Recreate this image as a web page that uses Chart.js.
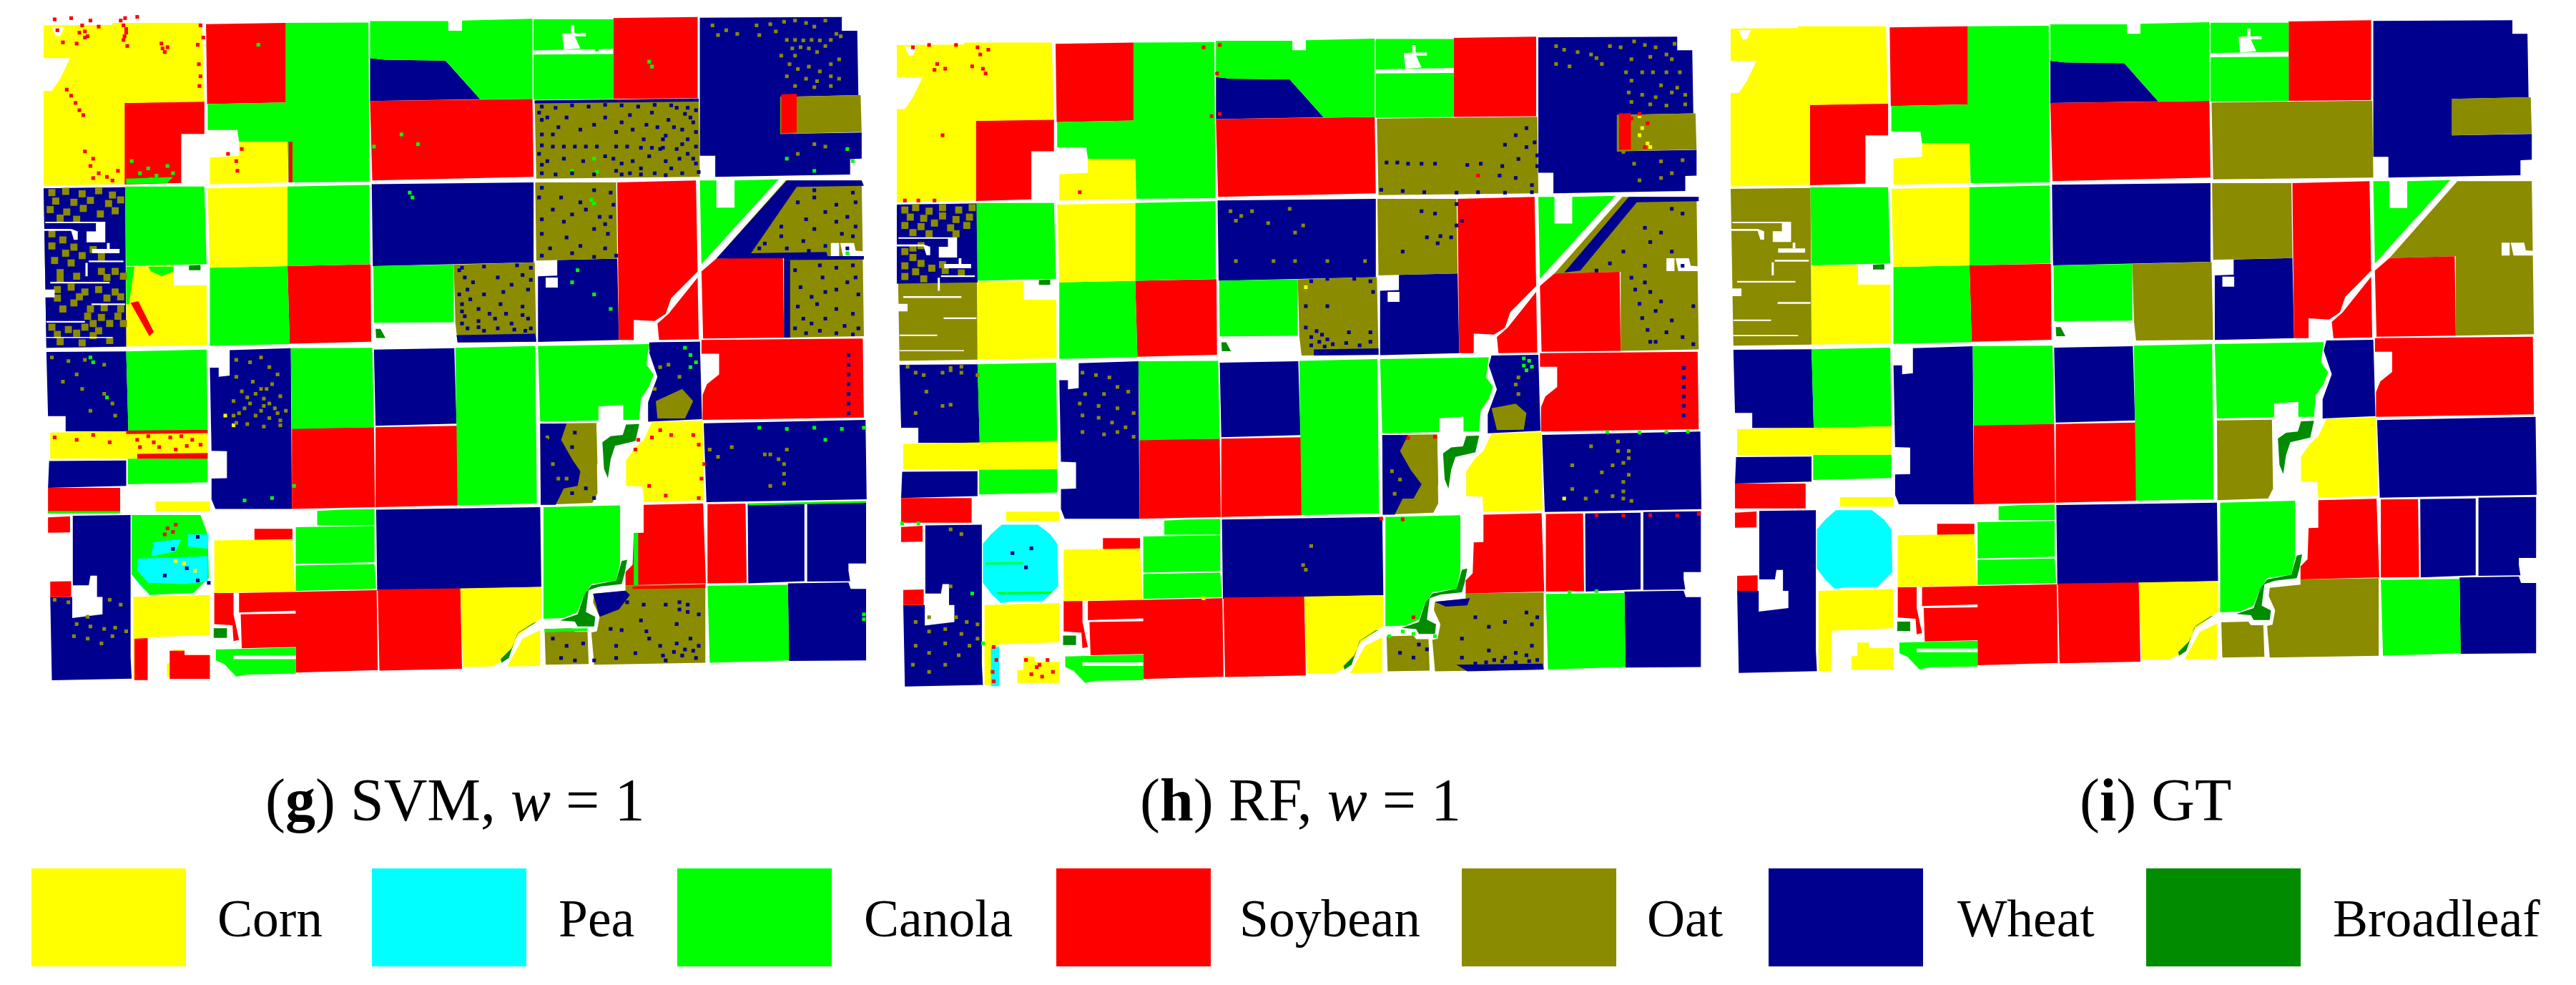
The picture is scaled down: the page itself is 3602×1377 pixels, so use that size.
<!DOCTYPE html>
<html>
<head>
<meta charset="utf-8">
<title>Crop maps</title>
<script src="https://cdn.jsdelivr.net/npm/chart.js@4/dist/chart.umd.js"></script>
<style>
  html, body { margin: 0; background: #fff; width: 3602px; height: 1377px; overflow: hidden; }
  canvas { position: absolute; }
  .caption, .label { position: absolute; font-family: "Liberation Serif", serif; color: #000; white-space: nowrap; line-height: 1; }
  .caption { font-size: 84px; }
  .label { font-size: 73.5px; }
  .swatch { position: absolute; }
</style>
</head>
<body>
<script>
// Class names and colours, in legend order
const classNames = ["Corn", "Pea", "Canola", "Soybean", "Oat", "Wheat", "Broadleaf"];
const classColors = ["#ffff00", "#00ffff", "#00ff00", "#ff0000", "#8b8b00", "#00008f", "#008b00"];
const captions = ["SVM", "RF", "GT"];

// Field outlines, map units, one flat x,y list per field
const cornFields = [
  [0,90,125,88,125,80,288,80,292,405,147,410,147,745,0,752,0,360,15,360,30,310,48,225,0,225],
  [355,570,443,570,443,738,302,745,302,635,355,628],
  [150,1085,236,1083,236,1163,296,1163,297,1410,150,1415],
  [298,762,443,755,443,1083,302,1090],
  [12,1770,298,1758,298,1877,12,1878],
  [1105,1727,1197,1720,1200,2050,1090,2057,1088,1992,1058,1990,1058,1885,1075,1830,1090,1800],
  [203,2055,302,2055,302,2095,203,2095],
  [163,2448,302,2440,302,2605,188,2615,186,2785,163,2785],
  [235,2665,256,2665,256,2688,302,2688,302,2777,224,2777,224,2722,235,2722],
  [310,2215,452,2210,457,2425,310,2432],
  [757,2413,904,2407,905,2535,895,2550,860,2610,845,2700,815,2735,762,2737],
  [902,2585,902,2733,842,2735,870,2620]
];
const peaFields = [
  [195,2110,262,2110,285,2150,298,2190,300,2370,272,2432,220,2432,193,2440,175,2400,160,2355,160,2190,175,2150]
];
const canolaFields = [
  [440,80,590,78,592,735,445,738,443,570,355,570,352,522,298,522,298,415,440,408],
  [593,72,735,72,735,112,760,112,760,70,888,63,888,393,793,395,760,310,730,235,620,232,593,225],
  [890,65,1035,65,1035,187,890,193],
  [890,210,1035,208,1035,393,890,397],
  [148,755,292,755,296,1075,150,1083],
  [443,755,592,748,593,1075,443,1083],
  [302,1090,443,1083,447,1405,302,1412],
  [599,1083,745,1077,745,1315,600,1317],
  [1192,730,1222,730,1222,842,1255,842,1255,730,1335,725,1195,1075],
  [150,1435,296,1428,298,1758,154,1765],
  [153,1878,298,1877,298,1975,153,1983],
  [449,1422,597,1420,600,1748,451,1755],
  [748,1420,893,1413,896,2063,752,2070],
  [898,1413,1100,1405,1095,1490,1108,1530,1100,1580,1085,1630,1082,1718,1053,1718,1053,1655,1008,1662,1008,1720,902,1725],
  [497,2093,540,2088,601,2086,601,2152,497,2152],
  [458,2160,601,2155,601,2305,458,2312],
  [458,2318,601,2312,604,2415,458,2423],
  [313,2665,458,2657,458,2765,370,2768,350,2777,328,2725,313,2710],
  [908,2078,1047,2070,1047,2310,1040,2380,995,2395,980,2450,970,2510,945,2535,908,2538],
  [1206,2402,1352,2398,1354,2710,1210,2720]
];
const soybeanFields = [
  [147,410,292,402,292,538,250,538,250,740,147,747],
  [295,85,440,80,440,408,297,415],
  [593,402,888,393,890,715,597,730],
  [1035,60,1188,55,1188,390,1035,393],
  [443,1083,594,1076,595,1395,447,1403],
  [1042,738,1185,730,1188,1105,1140,1215,1130,1280,1110,1310,1072,1305,1072,1388,1045,1388],
  [1115,1320,1135,1280,1188,1130,1190,1385,1118,1388],
  [1222,1052,1343,1045,1345,1378,1198,1382,1195,1105],
  [8,1998,139,1998,139,2102,8,2102],
  [451,1752,600,1748,602,2078,451,2085],
  [603,1748,752,1742,752,2070,603,2078],
  [1195,1388,1488,1382,1490,1708,1197,1718,1197,1615,1205,1570,1227,1530,1227,1445,1195,1445],
  [8,2120,48,2115,48,2182,8,2183],
  [12,2385,50,2383,50,2448,12,2448],
  [383,2167,452,2167,452,2210,383,2215],
  [310,2432,345,2432,345,2520,355,2625,345,2630,343,2565,310,2560],
  [355,2432,605,2420,607,2750,458,2760,458,2655,360,2660,358,2520,458,2517,458,2505,355,2512],
  [607,2417,757,2413,760,2745,610,2752],
  [1090,2068,1198,2062,1203,2392,1057,2400,1057,2345,1070,2315,1072,2185,1090,2183],
  [1206,2065,1275,2063,1277,2390,1206,2392]
];
const oatFields = [
  [892,400,1190,392,1192,715,895,722],
  [1338,385,1484,378,1486,530,1338,538],
  [0,762,148,758,150,1415,5,1420],
  [745,1077,892,1068,895,1395,752,1398,748,1317],
  [893,738,1040,738,1042,1052,895,1060],
  [1348,730,1486,730,1490,1372,1345,1378,1345,1045,1222,1052],
  [902,1733,1004,1730,1006,2020,997,2060,903,2068],
  [910,2580,960,2577,965,2592,988,2592,990,2725,912,2728],
  [1000,2435,1057,2422,1057,2400,1202,2395,1202,2720,1000,2728,995,2595,1005,2590,1010,2530,998,2470]
];
const wheatFields = [
  [593,225,620,232,730,235,793,395,593,402],
  [1192,58,1450,55,1450,112,1478,112,1480,378,1338,385,1338,538,1486,532,1486,640,1465,642,1465,705,1220,715,1220,628,1192,628],
  [596,745,890,738,890,1068,598,1083],
  [933,1058,1042,1052,1045,1388,898,1396,898,1125,933,1122],
  [5,1437,150,1435,154,1765,40,1765,40,1702,8,1702],
  [10,1887,150,1885,150,1990,8,1998],
  [338,1430,449,1422,451,2085,312,2085,305,2045,305,1960,333,1958,333,1847,305,1845,302,1502,318,1502,318,1540,338,1535],
  [600,1428,746,1422,750,1733,603,1742],
  [1105,1398,1192,1395,1196,1715,1098,1725,1098,1645,1115,1540,1100,1440],
  [1199,1732,1493,1718,1495,2045,1204,2057],
  [53,2113,158,2110,158,2698,160,2785,15,2792,12,2448,52,2448,52,2535,107,2520,107,2448,97,2448,97,2360,85,2360,82,2400,53,2400],
  [604,2088,902,2078,904,2407,606,2423],
  [1279,2063,1382,2060,1382,2383,1280,2392],
  [1387,2057,1494,2054,1494,2310,1462,2310,1462,2340,1465,2383,1387,2385],
  [1352,2392,1462,2388,1466,2415,1494,2415,1494,2710,1354,2712]
];
const broadleafFields = [
  [264,1080,285,1078,285,1100,264,1100],
  [603,1342,612,1342,621,1380,604,1380],
  [1058,1737,1082,1735,1075,1805,1038,1825,1030,1880,1025,1958,1018,1920,1015,1810,1030,1785,1052,1780],
  [309,2577,333,2577,333,2617,309,2617],
  [895,2552,860,2600,845,2700,832,2720,830,2705,850,2660,862,2595,890,2555],
  [938,2545,970,2520,982,2440,995,2400,1040,2380,1050,2300,1060,2295,1055,2355,1050,2395,1010,2405,990,2420,985,2510,1002,2530,1000,2570,970,2570,965,2550]
];
// White holes cut out of the fields (farmsteads, tracks)
const holes = [
  [15,97,38,97,30,135,22,135],
  [958,90,964,90,964,122,985,122,985,135,965,135,975,185,945,190,942,125,958,122],
  [3,900,112,900,112,985,78,985,78,940,95,940,95,906,3,906],
  [0,930,50,930,62,940,62,975,55,975,50,938,0,938],
  [88,1012,138,1012,138,1030,88,1030],
  [115,988,120,988,120,1012,115,1012],
  [82,1060,145,1060,145,1067,82,1067],
  [76,1070,80,1070,80,1125,76,1125],
  [12,1148,120,1148,120,1155,12,1155],
  [0,1180,20,1180,20,1212,0,1212],
  [87,1237,148,1237,148,1244,87,1244],
  [5,1310,75,1310,75,1316,5,1316],
  [5,1375,125,1375,125,1380,5,1380],
  [912,1130,934,1130,934,1172,912,1172],
  [1430,988,1445,988,1445,1042,1430,1042],
  [1447,988,1472,988,1475,1020,1490,1022,1490,1042,1452,1042],
  [345,2690,458,2690,458,2705,345,2705]
];

// SVM map: areas that came out as another class
const svmWheatPatches = [
  [0,762,148,758,150,1415,5,1420],
  [1350,730,1486,730,1490,752,1368,756,1285,1030,1422,1025,1425,1050,1222,1052],
  [750,1368,893,1362,895,1395,752,1398],
  [902,1733,950,1733,940,1800,960,1880,975,1930,970,1990,945,2000,930,2068,903,2068],
  [998,2435,1057,2422,1065,2440,1045,2500,1010,2530],
  [892,400,1190,392,1190,404,892,412],
  [1345,1045,1490,1040,1490,1056,1345,1058],
  [1345,1058,1356,1058,1356,1378,1345,1378],
  [1100,1398,1192,1395,1192,1430,1100,1430]
];
const svmOatPatches = [
  [955,1755,1004,1735,1006,1900,990,1925,972,1870,948,1795],
  [1112,1640,1160,1590,1180,1640,1165,1712,1115,1712]
];
const svmSoybeanPatches = [
  [1340,375,1368,372,1368,532,1340,535],
  [150,1762,298,1758,298,1772,150,1776],[170,1858,298,1854,298,1878,170,1878],
  [158,1235,172,1228,200,1355,192,1372],
  [165,2621,189,2618,189,2791,165,2791],[229,2670,256,2670,256,2688,302,2688,302,2786,229,2786],
  [445,570,452,570,452,738,445,738],
  [1070,2405,1202,2395,1202,2411,1070,2416]
];
const svmCanolaPatches = [
  [160,2110,285,2110,298,2190,300,2370,272,2432,193,2440,160,2355],
  [150,1085,165,1085,155,1240,150,1240],[190,1085,236,1085,236,1105,215,1125,195,1105],
  [150,722,235,716,225,740,150,745],
  [1280,2062,1494,2052,1494,2060,1280,2070],
  [1072,2185,1080,2185,1080,2400,1072,2400],
  [910,2580,988,2577,988,2588,910,2594],
  [8,2094,139,2094,139,2102,8,2104]
];
const svmPeaPatches = [
  [262,2190,300,2190,298,2250,262,2240],[170,2290,298,2280,298,2385,258,2395,190,2390,170,2340],
  [200,2220,250,2210,240,2260,195,2280]
];
// SVM map: oat blotches on the mixed wheat/oat field at the left
const svmOatBlotches = [
  15,780,40,775,70,785,100,772,125,790,22,815,55,820,85,812,118,825,140,810,12,850,42,860,72,845,103,868,130,855,30,885,60,890,
  15,950,35,975,55,1005,15,1000,40,1030,70,1040,20,1060,50,1070,90,1015,105,1045,
  105,1105,130,1105,145,1125,115,1130,30,1110,60,1125,30,1135,
  25,1180,50,1170,75,1190,25,1215,55,1235,35,1260,65,1210,100,1180,130,1190,115,1215,140,1210,
  85,1260,110,1255,140,1260,80,1290,105,1295,135,1290,90,1320,120,1320,145,1320,
  15,1335,45,1345,75,1335,100,1350,25,1365,60,1360,90,1370,30,1395,70,1400,120,1390
];
// SVM map: scattered misclassified pixels
const svmWheatSpecks = [
  905,425,930,430,960,420,990,425,1020,418,1050,420,1080,425,1110,418,1140,420,1170,430,1185,440,1165,455,1135,480,1180,490,1115,510,1160,520,1185,530,
  905,480,935,510,905,540,1000,500,1050,490,1070,520,1090,560,1130,545,1170,560,1185,590,1150,600,1120,600,905,585,925,590,945,590,965,590,985,590,1005,590,
  1040,590,1060,590,1085,595,1105,595,1125,595,900,620,915,650,1035,640,1050,660,1040,690,1085,680,1130,650,1155,640,1180,640,1110,700,1160,700,1190,695,905,700,930,705,960,700,1000,705,1050,705,
  900,450,915,470,925,540,950,470,975,520,1020,470,1040,530,1065,460,1095,500,1105,450,1150,430,1175,470,1145,510,1125,560,1160,580,1100,630,1070,650,1140,680,1185,660,1170,620,1020,630,980,650,945,640,905,665,1065,700,1085,705,1130,708,
  905,760,940,800,975,820,1000,770,1030,780,1035,830,960,870,1010,880,905,890,1000,930,1025,950,950,965,975,1000,920,1010,1020,1010,1040,1040,905,1040,
  900,800,925,850,945,900,905,950,985,850,1030,880,1020,910,960,1030,1000,1045,
  760,1090,800,1085,860,1080,885,1090,870,1120,885,1140,765,1130,770,1180,800,1200,835,1190,880,1180,760,1240,790,1260,830,1240,870,1250,765,1290,790,1310,820,1300,850,1320,880,1300,885,1340,770,1340,800,1350,
  755,1100,780,1150,825,1130,850,1160,755,1200,775,1220,760,1270,810,1280,840,1280,870,1285,760,1320,790,1335,825,1340,855,1345,875,1350,
  1400,800,1440,830,1420,860,1385,890,1460,880,1340,920,1400,930,1450,950,1310,990,1380,980,1350,1010,1420,1000,
  1370,820,1400,770,1470,780,1475,820,1340,960,1300,1010,1440,900,1475,920,1470,960,1390,1020,1460,1010,
  1410,1080,1440,1090,1470,1080,1415,1130,1460,1150,1420,1190,1480,1200,1405,1240,1440,1260,1470,1280,1420,1300,1455,1330,1480,1340,1410,1350,1440,1360,1470,1365,
  1365,1100,1375,1170,1370,1250,1380,1300,1365,1340,1385,1360,1440,1180,1475,1130,1395,1210,1395,1320,
  965,1770,960,1830,912,1800,915,1880,920,1950,985,2000,960,2020,1000,2040,
  1060,2470,1090,2480,1130,2480,1155,2470,1170,2510,1085,2545,1050,2585,1150,2560,1100,2620,1040,2650,1075,2680,1120,2650,1150,2640,1175,2620,1190,2650,1160,2690,1185,2700,1130,2710,1040,2700,1000,2710,
  1155,2500,1170,2480,1190,2520,1095,2590,1125,2690,1145,2675,1165,2665,1180,2670,1030,2580,
  925,2620,950,2650,965,2710,940,2700,980,2640,
  1462,1450,1462,1490,1462,1530,1462,1570,1462,1610,1462,1650,1462,1690,
  880,2090,895,2090,280,2200,235,2250,260,2330,220,2360,280,2380,300,2390
];
const svmOatSpecks = [
  1215,90,1240,110,1260,125,1295,90,1320,85,1330,115,1345,75,1365,70,1385,80,1400,95,1420,70,1440,125,1448,135,1225,130,1300,130,1350,150,1365,150,1380,152,1395,150,1410,152,1430,150,
  1360,185,1375,180,1390,185,1405,200,1420,175,1340,215,1365,215,1355,250,1370,270,1390,260,1410,280,1430,250,1445,230,1350,300,1385,310,1405,320,1430,300,1445,310,1365,340,1400,345,1430,340,
  1400,580,1420,590,1370,620,
  15,1460,45,1475,75,1470,110,1490,60,1530,35,1560,70,1590,110,1610,125,1650,85,1680,130,1700,
  350,1470,375,1480,395,1460,410,1500,425,1530,350,1540,380,1560,415,1570,360,1600,385,1610,400,1630,430,1620,345,1640,375,1650,400,1660,420,1670,440,1680,355,1690,385,1700,410,1710,430,1720,350,1730,370,1735,400,1745,430,1740,
  405,1590,395,1590,370,1625,410,1650,365,1670,345,1700,425,1690,395,1680,
  1210,1840,1225,1870,1250,1830,1310,1860,1350,1840,1345,1900,1345,1940,
  1110,1590,1120,1500,1135,1490,1155,1540,
  20,2460,45,2470,80,2530,120,2460,140,2480,60,2560,85,2570,110,2580,130,2575,150,2590,55,2610,80,2620,105,2640,125,2610,
  950,1960,960,2020,915,1790,925,1900,935,1960,
  1320,1860,1335,1880,1320,1990,1345,1980
];
const svmSoybeanSpecks = [
  20,65,50,60,70,90,85,70,100,95,65,120,75,140,60,165,25,110,35,160,148,60,145,90,150,120,145,150,152,175,140,70,170,55,
  214,165,225,180,220,200,285,90,290,140,280,170,42,355,50,380,58,410,65,440,72,460,75,610,90,640,85,670,100,700,90,720,115,715,135,690,125,730,
  75,115,80,135,150,105,147,135,216,185,282,250,285,300,283,340,175,430,180,680,335,620,350,650,352,690,360,600,
  20,1790,60,1800,90,1780,120,1810,170,1800,200,1810,230,1790,270,1800,175,1830,240,1840,285,1820,210,1830,260,1825,190,1785,250,1785,
  1120,1760,1105,1790,1080,1800,1075,1840,1140,1780,1180,1780,1190,1820,1200,1900,1195,1960,1100,1990,1130,2030,1190,2040,
  240,2150,225,2165,235,2180,220,2190,
  1080,1230,1175,1250,1460,1420,1460,1640,
  660,450,700,440,740,430,800,420
];
const svmCanolaSpecks = [
  540,200,390,170,1005,190,1100,240,1105,260,1000,640,960,690,1005,695,1350,640,1460,600,1470,650,1400,690,
  160,650,175,700,190,680,205,710,225,670,235,700,195,725,
  995,810,1000,825,665,780,670,800,970,1100,960,1150,1000,1200,1030,1260,
  85,1460,90,1480,115,1625,365,2050,455,1990,415,2040,1165,1420,1175,1450,1185,1480,1175,1500,
  1300,1750,1350,1755,1400,1750,1450,1755,1490,1750,1420,1800,1490,2520,1490,2540,
  650,540,680,580,600,590,1420,1000,1460,1030
];
const svmCornSpecks = [
  330,1700,345,1740,240,2300,255,2310,275,2340
];

// RF map: areas that came out as another class
const rfWheatPatches = [
  [0,762,148,758,150,1090,0,1095],
  [1360,730,1490,730,1490,748,1375,752,1270,1040,1240,1048],
  [775,1372,895,1368,895,1395,775,1398],
  [902,1733,950,1733,935,1800,955,1880,975,1940,960,2000,940,2000,925,2068,903,2068],
  [1000,2435,1065,2420,1060,2450,1020,2455],
  [1040,2700,1200,2695,1202,2720,1060,2728]
];
const rfOatPatches = [
  [955,1760,1004,1735,1006,1940,990,1990,965,1900,945,1800],
  [1105,1620,1150,1600,1170,1640,1165,1710,1115,1712]
];
const rfSoybeanPatches = [
  [1342,380,1364,376,1364,530,1342,532]
];
const rfCanolaPatches = [
  [165,2270,235,2268,235,2276,165,2278],[185,2395,290,2392,285,2402,190,2404]
];
const rfPeaPatches = [
  [175,2625,190,2625,190,2790,175,2790]
];
// RF map: oat blotches on the mixed wheat/oat field at the left
const rfOatBlotches = [
  15,785,35,775,60,790,85,775,115,785,140,775,25,815,50,820,85,810,110,825,135,815,15,850,45,855,70,840,100,860,130,850,30,880,60,885,110,885,
  15,960,30,985,45,1010,15,1020,35,1045,65,1030,15,1065,50,1075,90,1040,120,1050,
  45,935,30,945,85,1015
];
// RF map: scattered misclassified pixels
const rfWheatSpecks = [
  1170,440,1150,470,1185,500,1170,520,1130,510,1190,555,910,585,930,585,950,590,975,590,1000,590,1060,595,1085,590,1125,600,1155,570,1190,600,1120,640,1150,650,1180,680,900,700,940,705,980,710,1040,712,1080,710,1130,712,1180,710,
  975,790,1000,800,1040,760,1050,830,985,900,1010,895,1030,900,1005,925,1040,850,940,960,
  770,1085,800,1075,850,1075,880,1085,885,1130,760,1190,800,1190,760,1280,780,1295,790,1310,800,1330,840,1300,880,1300,770,1320,
  785,1340,810,1350,835,1345,860,1355,880,1340,770,1355,795,1360,
  1440,780,1460,800,1390,860,1420,880,1400,920,1350,960,1440,960,1325,1010,1390,1020,1460,1020,1300,1040,
  1390,1090,1400,1130,1420,1170,1410,1210,1440,1250,1480,1190,1430,1300,1460,1320,1400,1340,1480,1350,1365,1070,1372,1120,1380,1180,1385,1240,1395,1290,1410,1340,
  970,2615,985,2635,960,2670,935,2650,
  1170,2480,1190,2500,1180,2530,1075,2500,1100,2540,1130,2520,1050,2590,1100,2640,1150,2650,1180,2620,1130,2670,1170,2660,1110,2680,1190,2680,1050,2670,
  1125,2685,1150,2690,1175,2685,1095,2690,1075,2695,
  1462,1450,1462,1490,1462,1530,1462,1570,1462,1610,1462,1650,
  250,2210,215,2230,240,2290
];
const rfOatSpecks = [
  1225,95,1240,110,1265,120,1290,130,1300,145,1325,95,1345,100,1370,75,1390,90,1410,100,1430,130,1445,85,1440,150,1400,140,1365,150,1310,170,1250,180,1225,170,
  1355,205,1385,205,1405,205,1430,205,1455,205,1365,240,1420,260,1450,270,1360,290,1385,300,1410,310,1440,290,1465,300,1365,330,1400,340,1430,345,1465,340,
  1350,540,1420,580,1460,575,1370,590,1440,630,1380,660,1420,650,
  620,790,640,810,630,830,660,790,690,840,730,780,755,850,740,880,630,1000,700,1000,740,1000,800,1000,870,1000,
  20,1445,35,1470,50,1480,85,1470,100,1450,120,1470,150,1480,55,1550,85,1610,100,1605,35,1640,
  345,1470,370,1480,395,1490,410,1530,430,1550,350,1560,385,1560,340,1600,375,1610,410,1620,440,1640,345,1650,375,1660,400,1680,425,1700,345,1720,385,1730,410,1720,440,1740,
  1290,1780,1340,1800,1360,1830,1330,1860,1350,1850,1360,1900,1255,1860,1310,1890,1350,1930,1255,1960,1280,2000,1330,1990,1350,2000,1365,2010,1350,1970,1300,1970,
  120,1445,100,1460,1155,1490,1150,1520,1155,1560,
  100,2130,120,2150,100,2370,60,2500,35,2520,60,2560,90,2550,120,2570,150,2590,135,2620,90,2610,60,2650,115,2660,150,2530,130,2520,35,2620,90,2700,60,2730,
  1360,1800,1340,1760,110,2500,30,2700,770,2200,760,2300,755,2280,
  920,1885,935,1920,925,1980,945,2020
];
const rfSoybeanSpecks = [
  30,100,60,90,110,90,150,100,170,110,155,130,75,170,70,195,90,190,160,190,140,180,165,210,85,470,
  570,100,600,90,595,210,585,390,600,380,240,660,340,710,
  1345,385,1350,420,1352,470,1350,500,1380,380,1395,420,
  1365,400,1390,520,
  950,1745,1000,1740,960,2500,240,2680,260,2710,280,2680,250,2740,270,2750,290,2730,265,2700,
  180,2625,185,2680,178,2730,180,2770,
  1080,640,900,2085,940,2088,1300,2070,1350,2072,1400,2070,1450,2072,1490,2065,
  15,745,40,745,70,745
];
const rfCanolaSpecks = [
  1165,1410,1175,1420,1165,1440,1180,1445,1170,1460,960,2085,1020,2080,1040,2080,
  1320,1720,1380,1722,1430,1720,1470,1718,
  10,2105,40,2105,140,2400,160,2610,
  940,2560,960,2570,1000,2580,915,2580,1250,2395,1300,2390
];
const rfCornSpecks = [
  760,1110,1380,390,1385,440,1380,470,1395,505,1400,520,
  1240,2000,570,2420
];

// Map units are the same for all three panels, panels only differ by placement
const mapWidth = 1568;
const mapHeight = 2910;
const panels = [
  { left: 54, top: -2, width: 1221, height: 1000,
    patches: [svmWheatPatches, svmOatPatches, svmSoybeanPatches, svmCanolaPatches, svmPeaPatches],
    patchClasses: [5, 4, 3, 2, 1],
    blotches: svmOatBlotches,
    specks: [svmWheatSpecks, svmOatSpecks, svmSoybeanSpecks, svmCanolaSpecks, svmCornSpecks],
    speckClasses: [5, 4, 3, 2, 0] },
  { left: 1247, top: 26, width: 1194, height: 980,
    patches: [rfWheatPatches, rfOatPatches, rfSoybeanPatches, rfCanolaPatches, rfPeaPatches],
    patchClasses: [5, 4, 3, 2, 1],
    blotches: rfOatBlotches,
    specks: [rfWheatSpecks, rfOatSpecks, rfSoybeanSpecks, rfCanolaSpecks, rfCornSpecks],
    speckClasses: [5, 4, 3, 2, 0] },
  { left: 2420, top: 10, width: 1182, height: 970, patches: [], patchClasses: [], blotches: [], specks: [], speckClasses: [] }
];

function outlinePoints(outlines) {
  const pts = [];
  outlines.forEach(o => {
    for (let i = 0; i < o.length; i += 2) pts.push({ x: o[i], y: o[i + 1] });
    pts.push({ x: NaN, y: NaN }); // gap between fields
  });
  return pts;
}

function speckPoints(list) {
  const pts = [];
  for (let i = 0; i < list.length; i += 2) pts.push({ x: list[i], y: list[i + 1] });
  return pts;
}

function areaDataset(outlines, color, order) {
  return {
    data: outlinePoints(outlines),
    showLine: true,
    fill: "shape",
    backgroundColor: color,
    borderWidth: 0,
    borderColor: color,
    pointRadius: 0,
    tension: 0,
    spanGaps: false,
    order: order
  };
}

function speckDataset(list, color, radius, order) {
  return {
    data: speckPoints(list),
    showLine: false,
    pointStyle: "rect",
    pointRadius: radius,
    backgroundColor: color,
    borderWidth: 0,
    order: order
  };
}

function drawPanel(panel) {
  const canvas = document.createElement("canvas");
  canvas.width = panel.width;
  canvas.height = panel.height;
  canvas.style.left = panel.left + "px";
  canvas.style.top = panel.top + "px";
  canvas.style.width = panel.width + "px";
  canvas.style.height = panel.height + "px";
  document.body.appendChild(canvas);

  const fields = [cornFields, peaFields, canolaFields, soybeanFields, oatFields, wheatFields, broadleafFields];
  const datasets = [];
  fields.forEach((f, i) => datasets.push(areaDataset(f, classColors[i], i === 6 ? 30 : 40)));
  panel.patches.forEach((p, i) => {
    datasets.push(areaDataset(p, classColors[panel.patchClasses[i]], 20 - i));
  });
  datasets.push(speckDataset(panel.blotches, classColors[4], 7, 10));
  datasets.push(areaDataset(holes, "#ffffff", 5));
  panel.specks.forEach((s, i) => {
    datasets.push(speckDataset(s, classColors[panel.speckClasses[i]], 3.6, 1));
  });

  new Chart(canvas, {
    type: "scatter",
    data: { datasets: datasets },
    options: {
      responsive: false,
      animation: false,
      devicePixelRatio: 1,
      layout: { padding: 0 },
      events: [],
      plugins: { legend: { display: false }, tooltip: { enabled: false }, filler: { propagate: false } },
      scales: {
        x: { type: "linear", min: 0, max: mapWidth, display: false },
        y: { type: "linear", min: 0, max: mapHeight, reverse: true, display: false }
      }
    }
  });
}

panels.forEach(drawPanel);

// Captions under the maps
function addCaption(letter, rest, left, baseline) {
  const el = document.createElement("div");
  el.className = "caption";
  el.innerHTML = "(<b>" + letter + "</b>) " + rest;
  el.style.left = left + "px";
  el.style.top = (baseline - 68) + "px";
  document.body.appendChild(el);
}
addCaption("g", captions[0] + ", <i>w</i> = 1", 371, 1145);
addCaption("h", captions[1] + ", <i>w</i> = 1", 1594, 1145);
addCaption("i", captions[2], 2908, 1145);

// Legend row
const swatchLefts = [44, 520, 947, 1477, 2044, 2473, 3001];
const labelLefts = [304, 781, 1208, 1733, 2303, 2737, 3262];
classNames.forEach((name, i) => {
  const sw = document.createElement("div");
  sw.className = "swatch";
  sw.style.cssText = "left:" + swatchLefts[i] + "px;top:1214px;width:216px;height:137px;background:" + classColors[i];
  document.body.appendChild(sw);
  const lb = document.createElement("div");
  lb.className = "label";
  lb.textContent = name;
  lb.style.left = labelLefts[i] + "px";
  lb.style.top = (1308 - 60) + "px";
  document.body.appendChild(lb);
});
</script>
</body>
</html>
